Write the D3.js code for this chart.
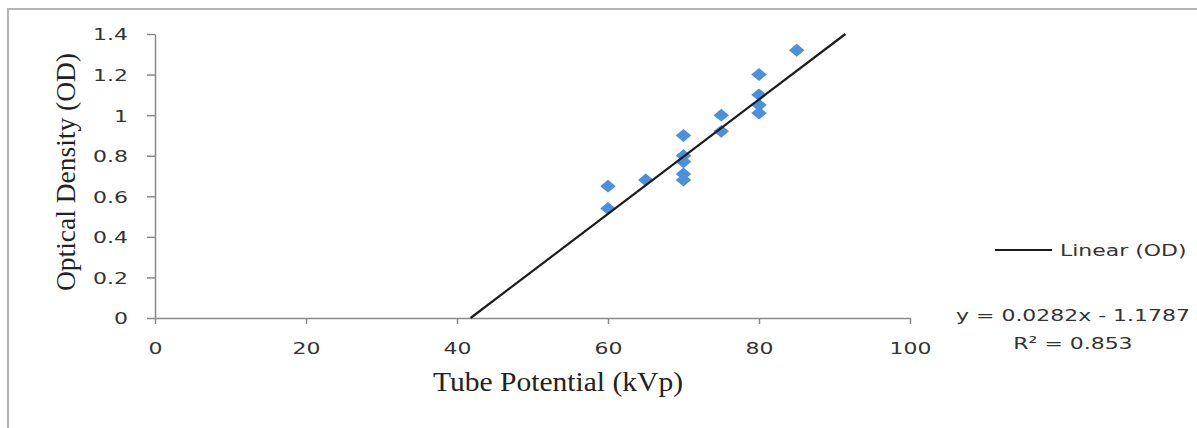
<!DOCTYPE html>
<html>
<head>
<meta charset="utf-8">
<script src="https://cdn.jsdelivr.net/npm/d3@7"></script>
<style>
  html, body { margin: 0; padding: 0; background: #fff; }
  svg { display: block; }
</style>
</head>
<body>
<svg id="chart" width="1197" height="428"></svg>
<script>
// ---- data ----
const kvp = [60, 60, 65, 70, 70, 70, 70, 70, 75, 75, 80, 80, 80, 80, 85];
const od  = [0.65, 0.54, 0.68, 0.90, 0.80, 0.77, 0.71, 0.68, 1.00, 0.92, 1.20, 1.10, 1.05, 1.01, 1.32];
const xTicks = [0, 20, 40, 60, 80, 100];
const yTicks = [0, 0.2, 0.4, 0.6, 0.8, 1, 1.2, 1.4];
const slope = 0.0282;
const intercept = -1.1787;
const xTitle = "Tube Potential (kVp)";
const yTitle = "Optical Density (OD)";
const legendLabel = "Linear (OD)";
const eqLabel = "y = 0.0282x - 1.1787";
const r2Label = "R² = 0.853";

// ---- layout ----
const svg = d3.select("#chart");
const X0 = 155, X1 = 910, Y0 = 318, Y1 = 34;
const x = d3.scaleLinear().domain([0, 100]).range([X0, X1]);
const y = d3.scaleLinear().domain([0, 1.4]).range([Y0, Y1]);
const STRETCH = 1.33;
const axisColor = "#8a8a8a";
const textColor = "#333333";

function stretch(sel, factor, fixed) {
  sel.each(function () {
    const w = this.getComputedTextLength();
    const L = fixed != null ? fixed : w * factor;
    d3.select(this).attr("textLength", L).attr("lengthAdjust", "spacingAndGlyphs");
  });
}

// outer frame
svg.append("line").attr("x1", 8).attr("x2", 1197).attr("y1", 9).attr("y2", 9)
  .attr("stroke", "#b4b4b4").attr("stroke-width", 2);
svg.append("line").attr("x1", 8).attr("x2", 8).attr("y1", 8).attr("y2", 428)
  .attr("stroke", "#b4b4b4").attr("stroke-width", 2);

// y axis
const gy = svg.append("g").attr("transform", `translate(${X0},0)`)
  .call(d3.axisLeft(y).tickValues(yTicks).tickSize(8).tickSizeOuter(0).tickPadding(19)
        .tickFormat(d => d3.format("~g")(d)));
gy.select(".domain").attr("stroke", axisColor).attr("stroke-width", 1.5);
gy.selectAll(".tick line").attr("stroke", axisColor).attr("stroke-width", 1.5);
gy.selectAll(".tick text").attr("fill", textColor)
  .style("font-family", "'DejaVu Sans', Verdana, sans-serif").style("font-size", "16.5px")
  .attr("dy", "0.36em").call(stretch, STRETCH);

// x axis
const gx = svg.append("g").attr("transform", `translate(0,${Y0})`)
  .call(d3.axisBottom(x).tickValues(xTicks).tickSize(6).tickSizeOuter(0).tickPadding(10));
gx.select(".domain").attr("stroke", axisColor).attr("stroke-width", 1.5);
gx.selectAll(".tick line").attr("stroke", axisColor).attr("stroke-width", 1.5);
gx.selectAll(".tick text").attr("fill", textColor)
  .style("font-family", "'DejaVu Sans', Verdana, sans-serif").style("font-size", "16.5px")
  .attr("y", 0).attr("dy", 36).call(stretch, STRETCH);

// trend line clipped to the plotted range
const xStart = Math.max(0, (0 - intercept) / slope);
const xEnd = Math.min(100, (1.4 - intercept) / slope);
const trend = [xStart, xEnd].map(v => ({ x: v, y: slope * v + intercept }));

// points (diamonds)
const pts = kvp.map((v, i) => ({ x: v, y: od[i] }));
svg.append("g").selectAll("path").data(pts).join("path")
  .attr("d", d3.symbol().type(d3.symbolSquare).size(84))
  .attr("transform", d => `translate(${x(d.x)},${y(d.y)}) scale(1.2,1) rotate(45)`)
  .attr("fill", "#4a90dc");

svg.append("path").datum(trend)
  .attr("d", d3.line().x(d => x(d.x)).y(d => y(d.y)))
  .attr("stroke", "#1c1c1c").attr("stroke-width", 2.2).attr("fill", "none");

// axis titles
svg.append("text").attr("x", 558).attr("y", 391).attr("text-anchor", "middle")
  .style("font-family", "'Liberation Serif', 'Times New Roman', serif").style("font-size", "27px")
  .attr("fill", "#222").text(xTitle).call(stretch, 1, 250);

svg.append("text").attr("transform", "translate(75,172) rotate(-90)").attr("text-anchor", "middle")
  .style("font-family", "'Liberation Serif', 'Times New Roman', serif").style("font-size", "28px")
  .attr("fill", "#222").text(yTitle).call(stretch, 1, 238);

// legend
svg.append("line").attr("x1", 995).attr("x2", 1052).attr("y1", 250).attr("y2", 250)
  .attr("stroke", "#1c1c1c").attr("stroke-width", 2);
svg.append("text").attr("x", 1060).attr("y", 256)
  .style("font-family", "'DejaVu Sans', Verdana, sans-serif").style("font-size", "16.5px")
  .attr("fill", textColor).text(legendLabel).call(stretch, STRETCH);

svg.append("text").attr("x", 1073).attr("y", 321).attr("text-anchor", "middle")
  .style("font-family", "'DejaVu Sans', Verdana, sans-serif").style("font-size", "16.5px")
  .attr("fill", textColor).text(eqLabel).call(stretch, STRETCH);
svg.append("text").attr("x", 1073).attr("y", 349).attr("text-anchor", "middle")
  .style("font-family", "'DejaVu Sans', Verdana, sans-serif").style("font-size", "16.5px")
  .attr("fill", textColor).text(r2Label).call(stretch, STRETCH);
</script>
</body>
</html>
